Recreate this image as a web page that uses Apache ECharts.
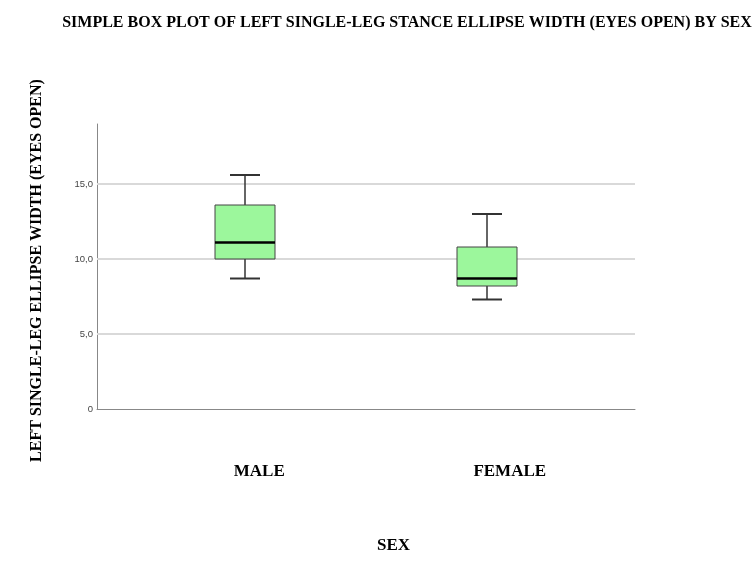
<!DOCTYPE html>
<html><head><meta charset="utf-8">
<script src="https://cdn.jsdelivr.net/npm/echarts@6/dist/echarts.min.js"></script>
<style>html,body{margin:0;padding:0;background:#fff}#c{width:753px;height:567px}</style>
</head><body><div id="c"></div>
<script>
const categories = ['MALE', 'FEMALE'];
const whiskerLow = [8.7, 7.3];
const q1 = [10.0, 8.2];
const median = [11.1, 8.7];
const q3 = [13.6, 10.8];
const whiskerHigh = [15.6, 13.0];
const yTicks = [0, 5, 10, 15];

const boxData = categories.map((c, i) => [i, whiskerLow[i], q1[i], median[i], q3[i], whiskerHigh[i]]);
const serif = '"Liberation Serif", "Times New Roman", serif';

const chart = echarts.init(document.getElementById('c'));
chart.setOption({
  animation: false,
  title: {
    text: 'SIMPLE BOX PLOT OF LEFT SINGLE-LEG STANCE ELLIPSE WIDTH (EYES OPEN) BY SEX',
    left: 402, top: 10, textAlign: 'center',
    textStyle: { fontFamily: serif, fontWeight: 700, fontSize: 16, color: '#000' }
  },
  grid: [
    { left: 97, right: 118, top: 124, bottom: 158 },
    { left: 124, right: 145, top: 124, bottom: 158 },
    { left: 134, right: 118, top: 124, bottom: 158 }
  ],
  xAxis: [
    { gridIndex: 0, type: 'category', data: categories, axisLine: { lineStyle: { color: '#888', width: 1 } },
      axisTick: { show: false }, axisLabel: { show: false } },
    { gridIndex: 1, type: 'category', data: categories, show: false },
    { gridIndex: 2, type: 'category', data: categories, axisLine: { show: false }, axisTick: { show: false },
      axisLabel: { margin: 54, fontFamily: serif, fontWeight: 'bold', fontSize: 17, color: '#000' },
      name: 'SEX', nameLocation: 'middle', nameGap: 128,
      nameTextStyle: { fontFamily: serif, fontWeight: 'bold', fontSize: 17, color: '#000', padding: [0, 0, 0, 18] } }
  ],
  yAxis: [
    { gridIndex: 0, type: 'value', min: 0, max: 19, interval: 5,
      axisLine: { show: true, lineStyle: { color: '#888' } }, axisTick: { show: false },
      axisLabel: { fontSize: 9.5, color: '#444', margin: 4, fontFamily: 'Arial, "Liberation Sans", sans-serif',
        formatter: v => yTicks.includes(v) ? (v === 0 ? '0' : v.toFixed(1).replace('.', ',')) : '' },
      splitLine: { show: false },
      name: 'LEFT SINGLE-LEG ELLIPSE WIDTH (EYES OPEN)', nameLocation: 'middle', nameGap: 52, nameRotate: 90,
      nameTextStyle: { fontFamily: serif, fontWeight: 700, fontSize: 16, color: '#000', padding: [0, 8, 0, 0] } },
    { gridIndex: 1, type: 'value', min: 0, max: 19, show: false },
    { gridIndex: 2, type: 'value', min: 0, max: 19, show: false }
  ],
  series: [
    { type: 'line', xAxisIndex: 0, yAxisIndex: 0, data: [], silent: true, z: 1,
      markLine: { silent: true, symbol: 'none', label: { show: false },
        lineStyle: { color: '#d9d9d9', width: 2, type: 'solid' },
        data: yTicks.filter(v => v > 0).map(v => ({ yAxis: v })) } },
    { type: 'custom', xAxisIndex: 1, yAxisIndex: 1, data: boxData, z: 10,
      renderItem: function (params, api) {
        const x = api.coord([api.value(0), 0])[0];
        const half = 30, cap = 15;
        const yl = api.coord([api.value(0), api.value(1)])[1];
        const y1 = api.coord([api.value(0), api.value(2)])[1];
        const ym = api.coord([api.value(0), api.value(3)])[1];
        const y3 = api.coord([api.value(0), api.value(4)])[1];
        const yh = api.coord([api.value(0), api.value(5)])[1];
        const ls = { stroke: '#333', lineWidth: 1.5 };
        return { type: 'group', children: [
          { type: 'line', shape: { x1: x, y1: yh, x2: x, y2: y3 }, style: ls },
          { type: 'line', shape: { x1: x, y1: y1, x2: x, y2: yl }, style: ls },
          { type: 'line', shape: { x1: x - cap, y1: yh, x2: x + cap, y2: yh }, style: { stroke: '#333', lineWidth: 2 } },
          { type: 'line', shape: { x1: x - cap, y1: yl, x2: x + cap, y2: yl }, style: { stroke: '#333', lineWidth: 2 } },
          { type: 'rect', shape: { x: x - half, y: y3, width: 2 * half, height: y1 - y3 },
            style: { fill: '#9cf79c', stroke: '#444', lineWidth: 1 } },
          { type: 'line', shape: { x1: x - half, y1: ym, x2: x + half, y2: ym }, style: { stroke: '#000', lineWidth: 2.5 } }
        ] };
      } }
  ]
});
</script></body></html>
